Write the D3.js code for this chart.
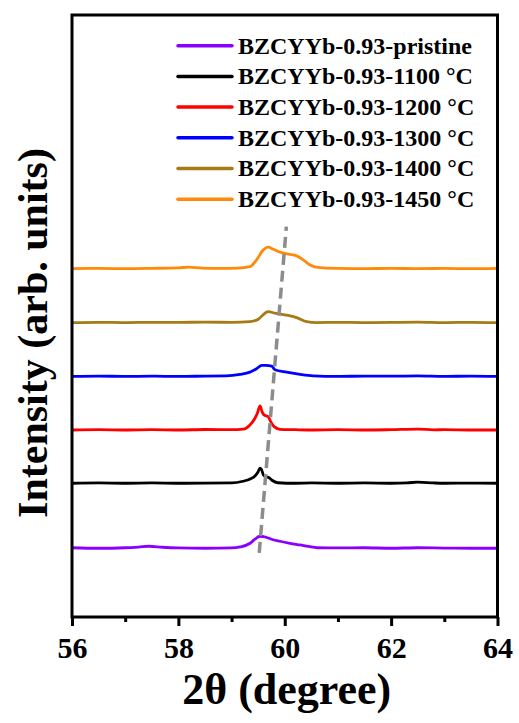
<!DOCTYPE html>
<html>
<head>
<meta charset="utf-8">
<script src="https://cdn.jsdelivr.net/npm/d3@7"></script>
<style>
  body { margin: 0; background: #fff; }
  text { font-family: "Liberation Serif", "Times New Roman", serif; font-weight: bold; }
</style>
</head>
<body>
<div id="chart-area"></div>
<script>
// samples, legend names and colours
let labels = ["BZCYYb-0.93-pristine", "BZCYYb-0.93-1100 \u00B0C", "BZCYYb-0.93-1200 \u00B0C",
              "BZCYYb-0.93-1300 \u00B0C", "BZCYYb-0.93-1400 \u00B0C", "BZCYYb-0.93-1450 \u00B0C"];
let colors = ["#8a00ff", "#000000", "#ff0000", "#0000ff", "#a67b16", "#ff8a0a"];

// vertical stacking offsets (arb. units)
let offsets = [685, 1333, 1864, 2398, 2934, 3472];

// [2theta, intensity above offset]
let pristine = [[56,5],[56.5,0],[57,5],[57.25,12],[57.45,20],[57.7,10],[58,3],[58.5,0],[59,3],
    [59.16,13],[59.35,50],[59.44,90],[59.53,120],[59.65,110],[59.75,90],[59.91,70],[60.1,50],
    [60.29,33],[60.45,18],[60.61,5],[61,3],[61.5,5],[62,0],[62.5,5],[63,2],[63.5,0],[64,0]];
let t1100 = [[56,0],[56.5,3],[57,0],[57.5,3],[58,0],[58.5,2],[59,3],[59.215,20],[59.35,43],
    [59.44,73],[59.497,113],[59.535,150],[59.56,140],[59.6,83],[59.647,65],[59.7,58],[59.76,30],
    [59.87,5],[60.2,0],[60.5,3],[61,0],[61.5,3],[62,0],[62.3,3],[62.5,12],[62.8,3],[63,0],[63.5,2],[64,0]];
let t1200 = [[56,0],[56.5,3],[57,0],[57.5,3],[58,0],[58.5,5],[59,3],[59.22,8],[59.346,50],
    [59.44,117],[59.484,167],[59.535,240],[59.572,183],[59.61,150],[59.69,133],[59.736,83],
    [59.8,33],[59.91,7],[60.2,3],[60.5,0],[61,3],[61.5,0],[62,3],[62.5,8],[62.8,2],[63,3],[63.5,0],[64,0]];
let t1300 = [[56,0],[56.5,3],[57,0],[57.5,2],[58,0],[58.5,3],[58.9,5],[59.158,20],[59.346,43],
    [59.47,77],[59.567,110],[59.647,110],[59.754,103],[59.816,67],[60.036,43],[60.287,20],
    [60.531,5],[61,0],[61.5,3],[62,2],[62.5,5],[63,0],[63.5,3],[64,0]];
let t1400 = [[56,0],[56.5,3],[57,0],[57.5,3],[58,2],[58.5,5],[59,3],[59.346,10],[59.503,34],
    [59.628,94],[59.69,110],[59.816,94],[60.005,77],[60.225,50],[60.412,10],[60.6,0],[61,3],
    [61.5,0],[62,2],[62.5,5],[63,0],[63.5,3],[64,0]];
let t1450 = [[56,0],[56.5,2],[57,0],[57.5,3],[58,8],[58.2,15],[58.45,5],[58.8,3],[59.1,5],
    [59.346,20],[59.47,87],[59.597,187],[59.69,214],[59.785,194],[59.91,164],[60.067,144],
    [60.225,127],[60.349,87],[60.475,37],[60.663,10],[61,3],[61.5,0],[62,3],[62.5,0],[63,2],[63.5,0],[64,3]];
let patterns = [pristine, t1100, t1200, t1300, t1400, t1450];

// peak shift guide (dashed)
let guideX = [59.52, 60.03];
let guideY = [640, 3890];

let majorTicks = [56, 58, 60, 62, 64];
let minorTicks = [57, 59, 61, 63];

let width = 519;
let height = 723;
let margin = {left: 72, top: 15};
let plotW = 425.5, plotH = 602;

let svg = d3.select("#chart-area")
            .append("svg")
            .attr("width", width)
            .attr("height", height);

let g = svg.append("g")
           .attr("transform", "translate(" + margin.left + "," + margin.top + ")");

let x = d3.scaleLinear().domain([56, 64]).range([0, plotW]);
let y = d3.scaleLinear().domain([0, 6000]).range([plotH, 0]);

//the stacked patterns
let line = d3.line()
             .x(function(d){ return x(d[0]); })
             .y(function(d){ return y(d[1]); })
             .curve(d3.curveMonotoneX);

patterns.forEach(function(p, i){
    g.append("path")
     .datum(p.map(function(d){ return [d[0], d[1] + offsets[i]]; }))
     .attr("fill", "none")
     .attr("stroke", colors[i])
     .attr("stroke-width", 2.8)
     .attr("stroke-linejoin", "round")
     .attr("d", line);
});

g.append("line")
 .attr("x1", x(guideX[0])).attr("y1", y(guideY[0]))
 .attr("x2", x(guideX[1])).attr("y2", y(guideY[1]))
 .attr("stroke", "#8c8c8c")
 .attr("stroke-width", 3.5)
 .attr("stroke-dasharray", "11,6");

//axes
let xAxis = g.append("g")
             .attr("transform", "translate(0," + plotH + ")")
             .call(d3.axisBottom(x).tickValues(majorTicks).tickSize(9).tickPadding(11).tickFormat(d3.format("d")));
xAxis.select(".domain").remove();
xAxis.selectAll("line").attr("stroke-width", 3);
xAxis.selectAll("text").attr("font-size", 30).attr("fill", "#000");

let xMinor = g.append("g")
              .attr("transform", "translate(0," + plotH + ")")
              .call(d3.axisBottom(x).tickValues(minorTicks).tickSize(5).tickFormat(""));
xMinor.select(".domain").remove();
xMinor.selectAll("line").attr("stroke-width", 3);

g.append("rect")
 .attr("width", plotW)
 .attr("height", plotH)
 .attr("fill", "none")
 .attr("stroke", "#000")
 .attr("stroke-width", 3);

svg.append("text")
   .attr("x", margin.left + plotW / 2 + 2)
   .attr("y", 704)
   .attr("text-anchor", "middle")
   .attr("font-size", 44)
   .text("2\u03B8 (degree)");

svg.append("text")
   .attr("transform", "translate(47,333) rotate(-90)")
   .attr("text-anchor", "middle")
   .attr("font-size", 42)
   .text("Intensity (arb. units)");

//legend
let legend = svg.append("g")
                .selectAll("g")
                .data(labels)
                .enter()
                .append("g")
                .attr("transform", function(d, i){
                    return "translate(178," + (45.7 + i * 30.7) + ")";
                });

legend.append("line")
      .attr("x1", 0).attr("x2", 54)
      .attr("stroke", function(d, i){ return colors[i]; })
      .attr("stroke-width", 3.5)
      .attr("stroke-linecap", "round");

legend.append("text")
      .attr("x", 60)
      .attr("dy", "0.33em")
      .attr("font-size", 24)
      .text(function(d){ return d; });
</script>
</body>
</html>
